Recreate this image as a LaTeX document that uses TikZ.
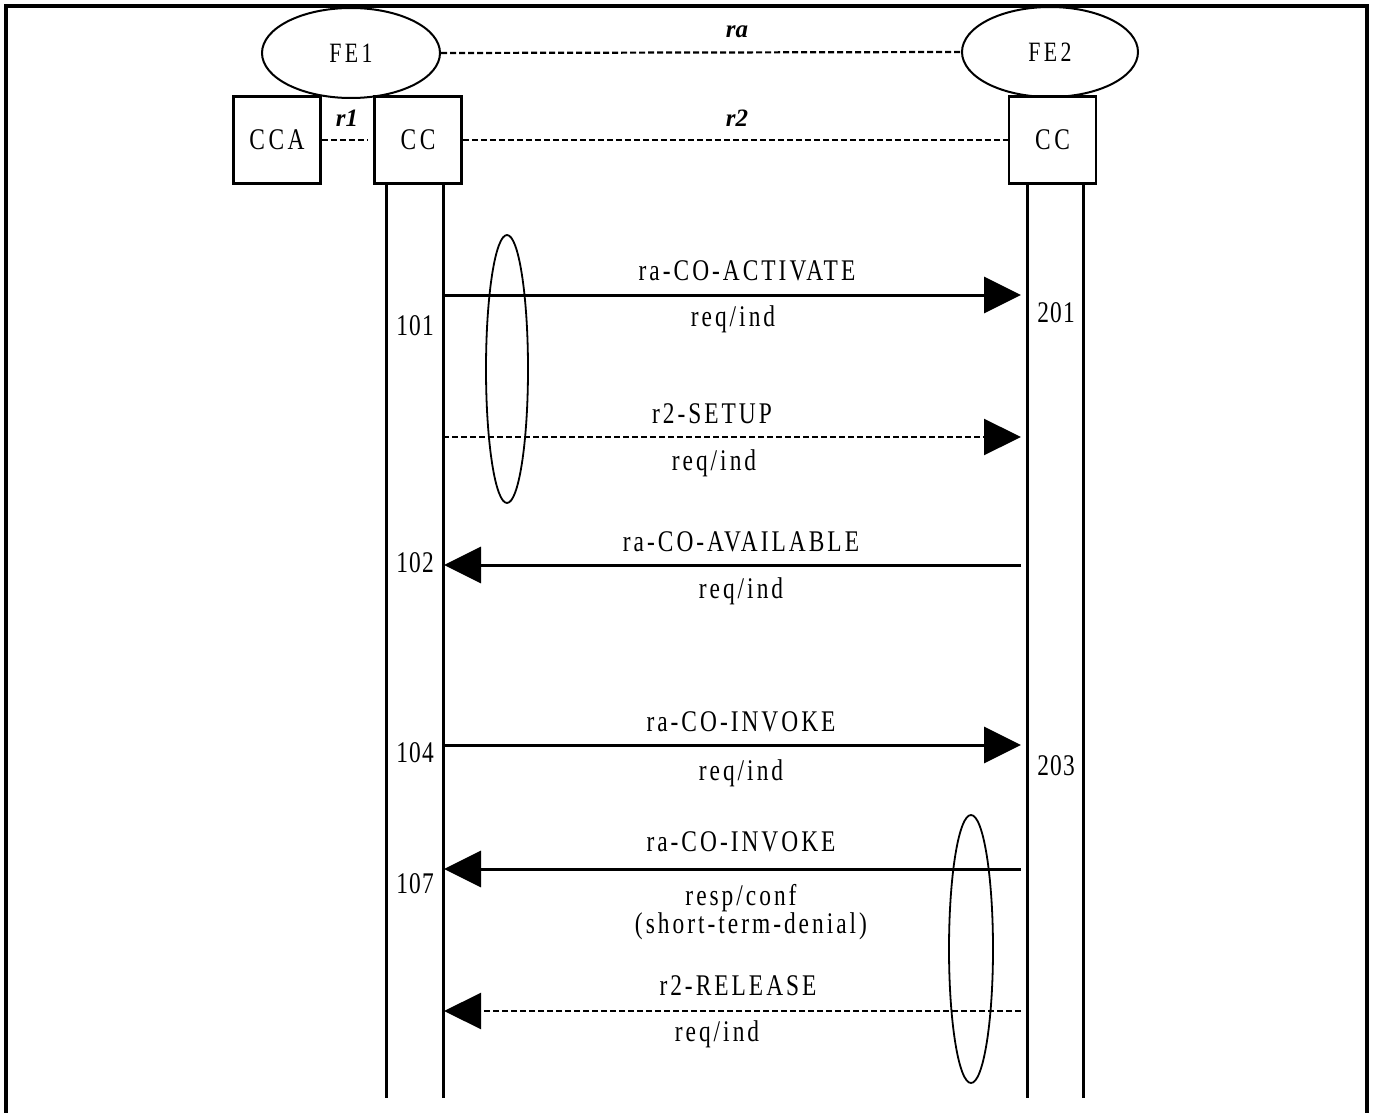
\documentclass[tikz,border=0pt]{standalone}
\usepackage{fontspec}
\setmainfont{Liberation Serif}
\newfontfamily\msgfont[LetterSpace=10,FakeStretch=0.78]{Liberation Serif}
\newfontfamily\boxfont[LetterSpace=12,FakeStretch=0.78]{Liberation Serif}
\newfontfamily\numfont[LetterSpace=4,FakeStretch=0.78]{Liberation Serif}
\usetikzlibrary{arrows.meta,shapes.geometric}
\begin{document}
\begin{tikzpicture}[x=1pt,y=-1pt,
  box/.style={draw,line width=2.5pt,minimum width=87pt,minimum height=87pt,inner sep=0pt,font=\fontsize{30}{32}\boxfont},
  fe/.style={draw,ellipse,line width=2pt,inner sep=0pt,font=\fontsize{28}{30}\boxfont},
  life/.style={line width=3pt},
  refline/.style={line width=2.2pt,dash pattern=on 6pt off 3pt},
  rlab/.style={font=\fontsize{25}{28}\selectfont\bfseries\itshape},
  msg/.style={line width=3pt,-{Triangle[length=37pt,width=36pt]}},
  dmsg/.style={line width=2.2pt,dash pattern=on 6pt off 3pt,-{Triangle[length=37pt,width=36pt]}},
  lab/.style={font=\fontsize{30}{32}\msgfont,inner sep=0pt},
  num/.style={font=\fontsize{30}{32}\numfont,inner sep=0pt},
  grp/.style={draw,ellipse,line width=1.8pt,inner sep=0pt}
]
\useasboundingbox (0,0) rectangle (1377,1113);
% frame
\draw[line width=4pt] (6,1113) -- (6,6) -- (1367,6) -- (1367,1113);

% entities
\node[fe,minimum width=178pt,minimum height=90pt] (fe1) at (351,53) {FE1};
\node[fe,minimum width=176pt,minimum height=90pt] (fe2) at (1050,52) {FE2};
\node[box] (cca) at (277,140) {CCA};
\node[box] (cc1) at (418,140) {CC};
\node[box] (cc2) at (1052.5,140) {CC};

% reference points
\draw[refline] (fe1.east) -- (fe2.west);
\node[rlab] (ra) at (737,32) {ra};
\draw[refline] (cc1.east) -- (cc2.west |- cc1.east);
\node[rlab] (r2) at (737,118) {r2};
\draw[refline,shorten >=5pt] (cca.east) -- (cc1.west);
\node[rlab] (r1) at (347,118) {r1};

% lifelines
\coordinate (l1a) at (386,184); \coordinate (l1b) at (386,1098);
\coordinate (l2a) at (443,184); \coordinate (l2b) at (443,1098);
\coordinate (l3a) at (1027,184); \coordinate (l3b) at (1027,1098);
\coordinate (l4a) at (1083,184); \coordinate (l4b) at (1083,1098);
\draw[life] (l1a) -- (l1b);
\draw[life] (l2a) -- (l2b);
\draw[life] (l3a) -- (l3b);
\draw[life] (l4a) -- (l4b);

% messages
\coordinate (m1s) at (443,295); \coordinate (m1e) at (1021,295);
\draw[msg] (m1s) -- (m1e);
\node[lab] (m1t) at (747,271) {ra-CO-ACTIVATE};
\node[lab] (m1b) at (733,319) {req/ind};
\node[num] (n101) at (415,326) {101};
\node[num] (n201) at (1056,313) {201};

\coordinate (m2s) at (443,437); \coordinate (m2e) at (1021,437);
\draw[dmsg] (m2s) -- (m2e);
\node[lab] (m2t) at (712,414) {r2-SETUP};
\node[lab] (m2b) at (714,463) {req/ind};

\coordinate (m3s) at (1021,565); \coordinate (m3e) at (444,565);
\draw[msg] (m3s) -- (m3e);
\node[lab] (m3t) at (741,542) {ra-CO-AVAILABLE};
\node[lab] (m3b) at (741,591) {req/ind};
\node[num] (n102) at (415,563) {102};

\coordinate (m4s) at (443,745); \coordinate (m4e) at (1021,745);
\draw[msg] (m4s) -- (m4e);
\node[lab] (m4t) at (741,722) {ra-CO-INVOKE};
\node[lab] (m4b) at (741,773) {req/ind};
\node[num] (n104) at (415,753) {104};
\node[num] (n203) at (1056,766) {203};

\coordinate (m5s) at (1021,869); \coordinate (m5e) at (444,869);
\draw[msg] (m5s) -- (m5e);
\node[lab] (m5t) at (741,842) {ra-CO-INVOKE};
\node[lab] (m5b) at (741,898) {resp/conf};
\node[lab] (m5c) at (751,926) {(short-term-denial)};
\node[num] (n107) at (415,884) {107};

\coordinate (m6s) at (1021,1011); \coordinate (m6e) at (444,1011);
\draw[dmsg] (m6s) -- (m6e);
\node[lab] (m6t) at (738,986) {r2-RELEASE};
\node[lab] (m6b) at (717,1034) {req/ind};

% grouping ellipses
\node[grp,minimum width=42pt,minimum height=268pt] (g1) at (507,369) {};
\node[grp,minimum width=44pt,minimum height=268pt] (g2) at (971,949) {};
\end{tikzpicture}
\end{document}
